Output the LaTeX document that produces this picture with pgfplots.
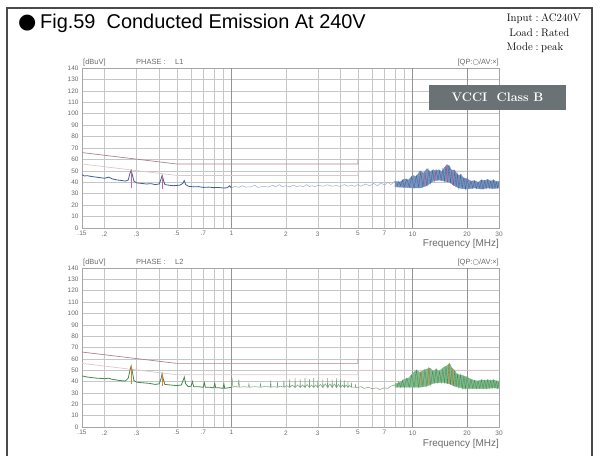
\documentclass[border=0pt]{standalone}
\usepackage{pgfplots}
\pgfplotsset{compat=1.18}
\usepackage{fontspec}
\newfontfamily\arial{Liberation Sans}
\newfontfamily\dejavu{DejaVu Sans}

\definecolor{limqp}{HTML}{A8868E}
\definecolor{limav}{HTML}{DDC8CC}
\definecolor{tracea}{HTML}{4A6FA8}
\definecolor{traceb}{HTML}{4E9E5E}
\definecolor{boxgray}{HTML}{6B7276}
\definecolor{txtgray}{HTML}{6A6A6A}
\definecolor{pk}{HTML}{D2609A}
\definecolor{frame}{HTML}{4A4A4A}

\begin{document}
\begin{tikzpicture}
\useasboundingbox (0bp,0bp) rectangle (600bp,456bp);
\draw[frame, line width=1.3bp] (7bp,-10bp) -- (7bp,448bp) -- (592bp,448bp) -- (592bp,-10bp);

% heading
\node[anchor=base west, inner sep=0] at (18bp,427bp) {\dejavu\fontsize{21}{21}\selectfont ●};
\node[anchor=base west, inner sep=0] at (40bp,427bp) {\arial\fontsize{20}{20}\selectfont Fig.59\ \ Conducted Emission At 240V};
\begin{scope}[every node/.style={inner sep=0, font=\fontsize{11}{12}\selectfont}]
\node[anchor=base east] at (533bp,434bp) {Input};
\node[anchor=base] at (537bp,434bp) {:};
\node[anchor=base west] at (541bp,434bp) {AC240V};
\node[anchor=base east] at (533bp,419.5bp) {Load};
\node[anchor=base] at (537bp,419.5bp) {:};
\node[anchor=base west] at (541bp,419.5bp) {Rated};
\node[anchor=base east] at (533bp,405bp) {Mode};
\node[anchor=base] at (537bp,405bp) {:};
\node[anchor=base west] at (541bp,405bp) {peak};
\end{scope}

% ---------- L1 ----------
\begin{axis}[
  at={(82bp,228bp)}, anchor=south west,
  scale only axis, width=417bp, height=160bp,
  xmode=log, xmin=0.15, xmax=30, ymin=0, ymax=140,
  xtick={0.15,0.2,0.3,0.5,0.7,1,2,3,5,7,10,20,30},
  xticklabels={.15,.2,.3,.5,.7,1,2,3,5,7,10,20,30},
  minor xtick={0.4,0.6,0.8,0.9,4,6,8,9},
  ytick={0,10,...,140},
  grid=both,
  major grid style={gray!45, line width=0.5bp},
  minor grid style={gray!45, line width=0.5bp},
  axis line style={gray!70},
  major tick length=0pt, minor tick length=0pt,
  tick label style={font=\arial\fontsize{6.5}{7}\selectfont, text=txtgray},
  /pgf/number format/assume math mode=true,
  unbounded coords=jump,
]
\draw[gray!85, line width=0.6bp] (axis cs:1,0) -- (axis cs:1,140);
\draw[gray!85, line width=0.6bp] (axis cs:10,0) -- (axis cs:10,140);
\draw[gray!85, line width=0.6bp] (axis cs:20,0) -- (axis cs:20,140);
\addplot[limav, line width=0.7bp] coordinates {(0.15,56)(0.5,46)(5,46)(5,50)(30,50)};
\addplot[limqp, line width=0.7bp] coordinates {(0.15,66)(0.5,56)(5,56)(5,60)};
\addplot[tracea!55, line width=0.5bp] coordinates {
(1.0,35)(1.05,36.5)(1.1,35.5)(1.15,37)(1.2,35.8)(1.28,36)(1.35,37.5)(1.4,35.5)(1.5,36.5)(1.6,35.8)
(1.7,37.5)(1.75,36)(1.85,38)(1.9,36)(2.0,37)(2.1,36)(2.2,37.5)(2.3,36.2)(2.4,37)(2.5,36)
(2.6,38)(2.7,36.3)(2.8,37)(2.9,36)(3.0,37.5)(3.2,36.5)(3.4,37.8)(3.6,36.5)(3.8,37.2)(4.0,36.3)
(4.2,38)(4.4,36.5)(4.6,37.5)(4.8,36.4)(5.0,38)(5.2,36.5)(5.5,38.5)(5.8,36.8)(6.1,39)(6.4,37)
(6.7,39.5)(7.0,37.5)(7.3,40)(7.6,38)(8.0,41)};
\addplot[fill=tracea!75, draw=tracea!80, line width=0.3bp] coordinates {
(8,41)(8.5,40)(9,43)(9.5,42)(10,46)(10.5,45)(11,50)(11.5,48)(12,52)(12.5,49)(13,51)(13.5,50)
(14,51)(14.5,49)(15,53)(15.5,55.5)(16,54)(16.5,50)(17,51)(17.5,48)(18,46)(18.5,47)(19,44)(20,43)
(21,41)(22,41.5)(23,40)(24,42)(25,41.5)(26,42.5)(27,41)(28,42)(29,40.5)(30,41)
(30,35)(28,34.5)(26,35)(24,34)(22,35)(20,34)(19,34.5)(18,35)(17,37)(16,40)(15,41)(14,42)
(13,41)(12,37)(11,35)(10,35)(9,35.5)(8,36)(8,41)};
\addplot[tracea!90!black, line width=0.35bp] coordinates {
(8.2,37)(8.4,41)(8.6,37)(8.8,42)(9.0,36)(9.3,43)(9.6,36)(9.9,45)(10.2,35)(10.5,46)(10.8,36)
(11.1,49)(11.4,36)(11.7,48)(12.0,37)(12.3,51)(12.6,39)(12.9,50)(13.2,41)(13.5,51)(13.8,42)
(14.1,50)(14.4,42)(14.7,52)(15.0,41)(15.3,54)(15.6,40)(15.9,55)(16.2,39)(16.5,51)(16.8,37)
(17.1,50)(17.4,36)(17.7,47)(18.0,35)(18.4,46)(18.8,35)(19.2,44)(19.6,34)(20,43)(20.5,35)
(21,41)(21.5,35)(22,41)(22.5,34.5)(23,40)(23.5,35)(24,42)(24.5,34)(25,41.5)(25.5,35)(26,42)
(26.5,35)(27,41)(27.5,34.5)(28,42)(28.5,35)(29,40.5)(29.5,35)(30,40)};
\addplot[pk, line width=0.5bp, opacity=0.7] coordinates {
(11.6,37)(11.6,48)(11.6,nan)(13.1,41)(13.1,50)(13.1,nan)(15.5,41)(15.5,55)(15.5,nan)(16.6,38)(16.6,50)};
\addplot[tracea!85!black, line width=0.8bp] coordinates {
(0.150,46.5)(0.155,45.5)(0.16,45.8)(0.17,45)(0.18,44.5)(0.19,44)(0.2,43.5)(0.21,44.5)(0.215,43.8)
(0.22,43)(0.235,42)(0.25,41.5)(0.26,41)(0.27,42)(0.275,47)(0.28,50.5)(0.285,46)(0.29,41)(0.30,39.5)
(0.32,39)(0.34,38.5)(0.36,38.8)(0.38,38)(0.40,38.5)(0.41,43)(0.415,46)(0.42,43)(0.43,38)(0.45,37.5)
(0.48,37)(0.52,37.5)(0.54,39)(0.55,41.5)(0.56,38)(0.58,36.5)(0.62,36)(0.66,36.2)(0.7,35.5)
(0.75,35.8)(0.8,35.3)(0.85,35.5)(0.9,35)(0.95,35.2)(0.98,37)(1.0,35)};
\addplot[pk, line width=0.7bp] coordinates {(0.28,35)(0.28,50)(0.28,nan)(0.415,34)(0.415,46)};
\end{axis}

% ---------- L2 ----------
\begin{axis}[
  at={(82bp,29bp)}, anchor=south west,
  scale only axis, width=417bp, height=159bp,
  xmode=log, xmin=0.15, xmax=30, ymin=0, ymax=140,
  xtick={0.15,0.2,0.3,0.5,0.7,1,2,3,5,7,10,20,30},
  xticklabels={.15,.2,.3,.5,.7,1,2,3,5,7,10,20,30},
  minor xtick={0.4,0.6,0.8,0.9,4,6,8,9},
  ytick={0,10,...,140},
  grid=both,
  major grid style={gray!45, line width=0.5bp},
  minor grid style={gray!45, line width=0.5bp},
  axis line style={gray!70},
  major tick length=0pt, minor tick length=0pt,
  tick label style={font=\arial\fontsize{6.5}{7}\selectfont, text=txtgray},
  /pgf/number format/assume math mode=true,
  unbounded coords=jump,
]
\draw[gray!85, line width=0.6bp] (axis cs:1,0) -- (axis cs:1,140);
\draw[gray!85, line width=0.6bp] (axis cs:10,0) -- (axis cs:10,140);
\draw[gray!85, line width=0.6bp] (axis cs:20,0) -- (axis cs:20,140);
\addplot[limav, line width=0.7bp] coordinates {(0.15,56)(0.5,46)(5,46)(5,50)(30,50)};
\addplot[limqp, line width=0.7bp] coordinates {(0.15,66)(0.5,56)(5,56)(5,60)};
\addplot[traceb!60!gray!85, line width=0.5bp] coordinates {
(1.0,35)(1.01,43)(1.02,35)(1.05,36)(1.09,35)(1.1,42)(1.11,35)(1.18,35.5)(1.24,35)(1.25,38)(1.26,35)
(1.35,35.5)(1.44,35)(1.45,38)(1.46,35)(1.55,36)(1.64,35)(1.65,41)(1.66,35)(1.72,35.5)(1.79,35)
(1.8,40)(1.81,35)(1.87,36)(1.94,35)(1.95,41)(1.96,35)(2.02,36.5)(2.09,35)(2.1,42)(2.11,35)
(2.17,37)(2.24,35)(2.25,43)(2.26,35)(2.32,37)(2.39,35)(2.4,42)(2.41,35)(2.47,37)(2.54,35)
(2.55,43)(2.56,35)(2.62,37.5)(2.69,35)(2.7,42)(2.71,35)(2.77,37)(2.84,35)(2.85,43)(2.86,35)
(2.92,37)(2.99,35)(3.0,41)(3.01,35)(3.1,37.5)(3.19,35)(3.2,42)(3.21,35)(3.3,38)(3.39,35)
(3.4,43)(3.42,35)(3.5,38)(3.59,35)(3.6,42)(3.62,35)(3.7,38)(3.79,35)(3.8,43)(3.82,35)
(3.9,37.5)(3.99,35)(4.0,42)(4.02,35)(4.1,37)(4.19,35)(4.2,41)(4.22,35)(4.3,37)(4.39,35)
(4.4,40)(4.42,35)(4.5,36.5)(4.59,35)(4.6,39)(4.62,35)(4.83,35)(4.85,38)(4.87,34.5)(5.2,35.5)
(5.4,34)(5.7,35)(6.0,33.5)(6.3,34.5)(6.6,33)(7.0,34.5)(7.3,34)(7.6,36)(8.0,37)};
\addplot[fill=traceb!72, draw=traceb!80, line width=0.3bp] coordinates {
(8,38)(8.5,39)(9,42)(9.5,43)(10,47)(10.5,50)(11,48)(11.5,50)(12,51)(12.5,52)(13,49)(13.5,51)
(14,49)(14.5,51)(15,53)(15.5,54)(16,56)(16.5,52)(17,50)(17.5,47)(18,46)(18.5,46)(19,45)(20,44)
(21,42)(22,41)(23,40.5)(24,41.5)(25,41)(26,41.5)(27,41)(28,41.5)(29,40.5)(30,40.5)
(30,34)(28,34.5)(26,34)(24,34)(22,34)(20,34)(19,34)(18,35)(17,36)(16,38)(15,39)(14,39)
(13,38.5)(12,36)(11,35)(10,35)(9,35)(8,35)(8,38)};
\addplot[traceb!90!black, line width=0.35bp] coordinates {
(8.2,35)(8.4,40)(8.6,35)(8.8,41)(9.0,35)(9.3,43)(9.6,35)(9.9,46)(10.2,35)(10.5,50)(10.8,35)
(11.1,48)(11.4,36)(11.7,50)(12.0,36)(12.3,52)(12.6,37)(12.9,49)(13.2,39)(13.5,51)(13.8,39)
(14.1,49)(14.4,39)(14.7,51)(15.0,39)(15.3,53)(15.6,38)(15.9,56)(16.2,37)(16.5,52)(16.8,36)
(17.1,50)(17.4,35)(17.7,47)(18.0,35)(18.4,46)(18.8,34)(19.2,45)(19.6,34)(20,44)(20.5,34)
(21,42)(21.5,34)(22,41)(22.5,34)(23,40.5)(23.5,34)(24,41.5)(24.5,34)(25,41)(25.5,34)(26,41.5)
(26.5,34.5)(27,41)(27.5,34)(28,41.5)(28.5,34.5)(29,40.5)(29.5,34)(30,40)};
\addplot[orange!70!pk, line width=0.5bp, opacity=0.6] coordinates {
(11.2,36)(11.2,48)(11.2,nan)(12.4,37)(12.4,52)(12.4,nan)(15.9,38)(15.9,56)(15.9,nan)(16.6,37)(16.6,51)};
\addplot[traceb!85!black, line width=0.8bp] coordinates {
(0.15,45)(0.155,44.5)(0.16,44)(0.17,43.5)(0.18,43)(0.19,42.8)(0.2,42.5)(0.21,43)(0.22,42)(0.24,41)
(0.26,40.5)(0.27,43)(0.275,49)(0.28,54)(0.285,48)(0.29,41)(0.3,39.5)(0.32,39)(0.35,38.5)(0.38,37.5)
(0.40,38)(0.41,43)(0.415,47)(0.42,43)(0.43,37.5)(0.46,37)(0.5,36.5)(0.53,37)(0.545,42)(0.55,44)
(0.56,38)(0.58,35.5)(0.6,36)(0.61,40)(0.62,35.5)(0.66,35.5)(0.7,35)(0.71,39)(0.72,35)(0.76,35)
(0.8,34.5)(0.81,38.5)(0.82,34.5)(0.86,34.5)(0.9,34)(0.91,38)(0.92,34)(0.96,34.5)(1.0,35)};
\addplot[orange!70!pk, line width=0.7bp] coordinates {(0.28,38)(0.28,54)(0.28,nan)(0.415,36)(0.415,47)};
\end{axis}

% axis captions
\begin{scope}[every node/.style={inner sep=0, font=\arial\fontsize{7.5}{8}\selectfont, text=txtgray}]
\node[anchor=base west] at (83bp,391bp) {[dBuV]};
\node[anchor=base west] at (136bp,391bp) {PHASE :};
\node[anchor=base west] at (175bp,391bp) {L1};
\node[anchor=base east] at (499bp,391bp) {[QP:{\dejavu ○}/AV:×]};
\node[anchor=base west] at (83bp,191bp) {[dBuV]};
\node[anchor=base west] at (136bp,191bp) {PHASE :};
\node[anchor=base west] at (175bp,191bp) {L2};
\node[anchor=base east] at (499bp,191bp) {[QP:{\dejavu ○}/AV:×]};
\node[anchor=base east, font=\arial\fontsize{10}{10}\selectfont] at (499bp,209bp) {Frequency\ [MHz]};
\node[anchor=base east, font=\arial\fontsize{10}{10}\selectfont] at (499bp,10bp) {Frequency\ [MHz]};
\end{scope}

\node[fill=boxgray, text=white, minimum width=137bp, minimum height=25bp, inner sep=0,
  font=\bfseries\fontsize{12.5}{13}\selectfont] at (497.5bp,358.5bp) {VCCI\ \ Class B};
\end{tikzpicture}
\end{document}
